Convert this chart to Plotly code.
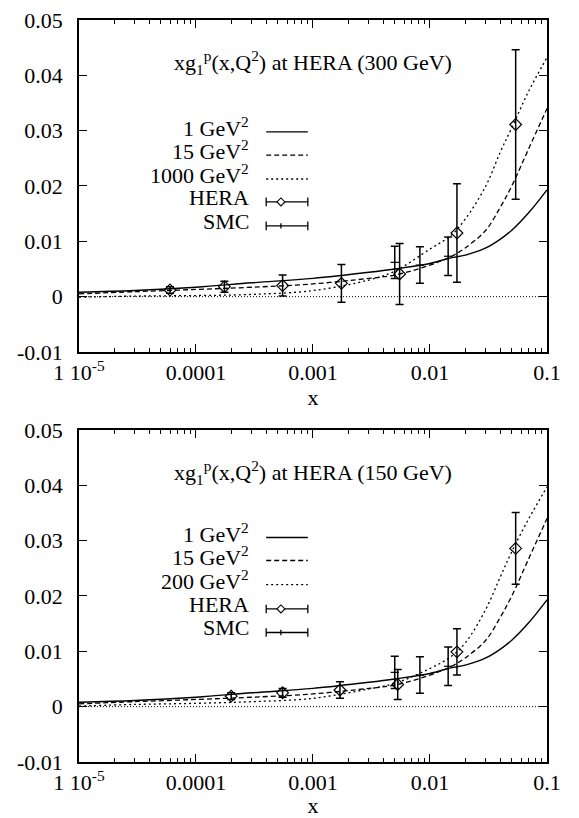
import plotly.graph_objects as go

# ---------------- data ----------------
x_grid = [1e-5, 3e-5, 1e-4, 3e-4, 1e-3, 3e-3, 5e-3, 1e-2, 1.5e-2, 2e-2, 3e-2, 4e-2, 5e-2, 7e-2, 1e-1]
g1_q1 = [0.0008, 0.0011, 0.0017, 0.0025, 0.0033, 0.0044, 0.0050, 0.0060, 0.0070, 0.0075, 0.0088, 0.0104, 0.0120, 0.0152, 0.0193]
g1_q15 = [0.0005, 0.0009, 0.0013, 0.0017, 0.0023, 0.0033, 0.0039, 0.0057, 0.0072, 0.0088, 0.0120, 0.0162, 0.0200, 0.0268, 0.0340]
g1_q1000 = [-0.0001, 0.0001, 0.0002, 0.0004, 0.0011, 0.0030, 0.0046, 0.0086, 0.0110, 0.0140, 0.0200, 0.0262, 0.0305, 0.0372, 0.0432]
g1_q200 = [0.0001, 0.0004, 0.0006, 0.0009, 0.0015, 0.0032, 0.0042, 0.0069, 0.0090, 0.0115, 0.0176, 0.0235, 0.0280, 0.0340, 0.0397]

hera300_x = [6.0e-5, 1.75e-4, 5.5e-4, 1.75e-3, 5.5e-3, 1.7e-2, 5.4e-2]
hera300_y = [0.0012, 0.0018, 0.0020, 0.0024, 0.0041, 0.0115, 0.0311]
hera300_err = [0.0006, 0.0010, 0.0019, 0.0034, 0.0055, 0.0089, 0.0135]

hera150_x = [2.0e-4, 5.5e-4, 1.7e-3, 5.3e-3, 1.7e-2, 5.4e-2]
hera150_y = [0.0019, 0.0025, 0.0030, 0.0040, 0.0099, 0.0286]
hera150_err = [0.0006, 0.0008, 0.0015, 0.0027, 0.0042, 0.0065]

smc_x = [5.0e-3, 8.2e-3, 1.43e-2]
smc_y = [0.0062, 0.0057, 0.0073]
smc_err = [0.0029, 0.0033, 0.0035]

x_tickvals = [1e-5, 1e-4, 1e-3, 1e-2, 1e-1]
x_ticktext = ["1 10<sup>-5</sup>", "0.0001", "0.001", "0.01", "0.1"]
y_tickvals = [-0.01, 0, 0.01, 0.02, 0.03, 0.04, 0.05]
y_ticktext = ["-0.01", "0", "0.01", "0.02", "0.03", "0.04", "0.05"]

panels = [
    dict(title="xg<sub>1</sub><sup>p</sup>(x,Q<sup>2</sup>) at HERA (300 GeV)",
         hx=hera300_x, hy=hera300_y, he=hera300_err,
         third=g1_q1000, third_label="1000 GeV<sup>2</sup>",
         domain=[0.5697, 0.9756], rows=[0.663, 0.593, 0.521, 0.452, 0.380]),
    dict(title="xg<sub>1</sub><sup>p</sup>(x,Q<sup>2</sup>) at HERA (150 GeV)",
         hx=hera150_x, hy=hera150_y, he=hera150_err,
         third=g1_q200, third_label="200 GeV<sup>2</sup>",
         domain=[0.0685, 0.4743], rows=[0.676, 0.607, 0.534, 0.461, 0.390]),
]

FONT = "Liberation Serif"
FS = 22
fig = go.Figure()
xdom = [0.1364, 0.9447]

minor_vals = [k * 10 ** e for e in range(-5, -1) for k in range(2, 10)]

annotations = []
shapes = []
for i, p in enumerate(panels):
    xa = "x" if i == 0 else "x2"
    ya = "y" if i == 0 else "y2"
    xr = "x domain" if i == 0 else "x2 domain"
    yr = "y domain" if i == 0 else "y2 domain"

    fig.add_trace(go.Scatter(x=x_grid, y=g1_q1, mode="lines", line=dict(color="black", width=1.4, shape="spline"),
                             xaxis=xa, yaxis=ya, showlegend=False))
    fig.add_trace(go.Scatter(x=x_grid, y=g1_q15, mode="lines",
                             line=dict(color="black", width=1.3, dash="5px,3px", shape="spline"),
                             xaxis=xa, yaxis=ya, showlegend=False))
    fig.add_trace(go.Scatter(x=x_grid, y=p["third"], mode="lines",
                             line=dict(color="black", width=1.3, dash="2px,3px", shape="spline"),
                             xaxis=xa, yaxis=ya, showlegend=False))
    fig.add_trace(go.Scatter(x=p["hx"], y=p["hy"], mode="markers",
                             marker=dict(symbol="diamond-open", size=9, color="black", line=dict(width=1.2)),
                             error_y=dict(type="data", array=p["he"], color="black", thickness=1.5, width=4),
                             xaxis=xa, yaxis=ya, showlegend=False))
    fig.add_trace(go.Scatter(x=smc_x, y=smc_y, mode="markers",
                             marker=dict(symbol="line-ew-open", size=6, color="black", line=dict(width=1.2)),
                             error_y=dict(type="data", array=smc_err, color="black", thickness=1.5, width=4),
                             xaxis=xa, yaxis=ya, showlegend=False))

    # zero reference line
    shapes.append(dict(type="line", xref=xr, yref=ya, x0=0, x1=1, y0=0, y1=0,
                       line=dict(color="black", width=1, dash="1px,2px")))

    # title inside the frame
    annotations.append(dict(text=p["title"], xref=xr, yref=yr, x=0.5, y=0.872, showarrow=False,
                            xanchor="center", yanchor="middle", font=dict(family=FONT, size=FS, color="black")))

    # legend (text right, sample on the right)
    labels = ["1 GeV<sup>2</sup>", "15 GeV<sup>2</sup>", p["third_label"], "HERA", "SMC"]
    styles = [dict(width=1.4), dict(width=1.3, dash="5px,3px"), dict(width=1.3, dash="2px,3px"),
              dict(width=1.3), dict(width=1.3)]
    for lab, ry, st in zip(labels, p["rows"], styles):
        annotations.append(dict(text=lab, xref=xr, yref=yr, x=0.3675, y=ry + 0.014, showarrow=False,
                                xanchor="right", yanchor="middle",
                                font=dict(family=FONT, size=FS, color="black")))
        shapes.append(dict(type="line", xref=xr, yref=yr, x0=0.40, x1=0.489, y0=ry, y1=ry,
                           line=dict(color="black", **st)))
    for ry in p["rows"][3:]:
        for xc in (0.40, 0.489):
            shapes.append(dict(type="line", xref=xr, yref=yr, x0=xc, x1=xc, y0=ry - 0.013, y1=ry + 0.013,
                               line=dict(color="black", width=1.3)))
    # HERA diamond sample
    ry = p["rows"][3]
    shapes.append(dict(type="path", xref=xr, yref=yr,
                       path=f"M 0.423 {ry} L 0.4315 {ry + 0.012} L 0.440 {ry} L 0.4315 {ry - 0.012} Z",
                       line=dict(color="black", width=1.1), fillcolor="white"))
    # SMC small tick
    ry = p["rows"][4]
    shapes.append(dict(type="line", xref=xr, yref=yr, x0=0.4315, x1=0.4315, y0=ry - 0.008, y1=ry + 0.008,
                       line=dict(color="black", width=1.3)))

axis_common = dict(showline=True, linecolor="black", linewidth=1.5, mirror="ticks", ticks="inside",
                   tickcolor="black", tickwidth=1.2, showgrid=False, zeroline=False, automargin=False,
                   tickfont=dict(family=FONT, size=FS, color="black"))

for i, p in enumerate(panels):
    xkey = "xaxis" if i == 0 else "xaxis2"
    ykey = "yaxis" if i == 0 else "yaxis2"
    fig.update_layout(**{
        xkey: dict(type="log", range=[-5, -1], domain=xdom, anchor="y" if i == 0 else "y2",
                   tickmode="array", tickvals=x_tickvals, ticktext=x_ticktext, ticklen=8,
                   minor=dict(tickmode="array", tickvals=minor_vals, ticks="inside", ticklen=4,
                              tickcolor="black", tickwidth=1),
                   title=dict(text="x", font=dict(family=FONT, size=FS, color="black"), standoff=2),
                   **axis_common),
        ykey: dict(range=[-0.01, 0.05], domain=p["domain"], anchor="x" if i == 0 else "x2",
                   tickmode="array", tickvals=y_tickvals, ticktext=y_ticktext, ticklen=8,
                   ticklabelstandoff=10, **axis_common),
    })

fig.update_layout(width=579, height=818, margin=dict(l=0, r=0, t=0, b=0),
                  paper_bgcolor="white", plot_bgcolor="white",
                  annotations=annotations, shapes=shapes, showlegend=False)

fig.write_html("out.html")
